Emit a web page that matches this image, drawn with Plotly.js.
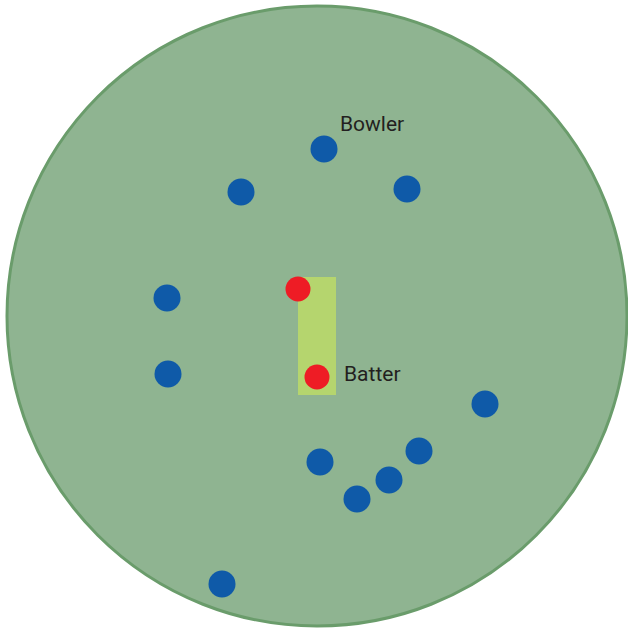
<!DOCTYPE html>
<html>
<head>
<meta charset="utf-8">
<script src="https://cdn.plot.ly/plotly-3.0.1.min.js"></script>
<style>html,body{margin:0;padding:0;background:#fff;}#chart{width:628px;height:630px;}</style>
</head>
<body>
<div id="chart"></div>
<script>
// Field coordinates: origin at field centre, y up
const fieldRadius = [310];
const pitchX = [-19, 19];
const pitchY = [-79, 39];

const fielderX = [7, -76, 90, -150, -149, 168, 102, 3, 72, 40, -95];
const fielderY = [167, 124, 127, 18, -58, -88, -135, -146, -164, -183, -268];

const batterX = [-19, 0];
const batterY = [27, -61];

const labelText = ["Bowler", "Batter"];
const labelX = [23, 27];
const labelY = [190, -60];

const r = fieldRadius[0];
const data = [
  {
    type: 'scatter', mode: 'markers', x: fielderX, y: fielderY,
    marker: {color: '#0f5aa8', size: 27, line: {width: 0}},
    hoverinfo: 'skip', showlegend: false
  },
  {
    type: 'scatter', mode: 'markers', x: batterX, y: batterY,
    marker: {color: '#ee1c25', size: 25, line: {width: 0}},
    hoverinfo: 'skip', showlegend: false
  },
  {
    type: 'scatter', mode: 'text', x: labelX, y: labelY, text: labelText,
    textposition: 'middle right',
    textfont: {family: 'Roboto, sans-serif', size: 21, color: '#231f20'},
    hoverinfo: 'skip', showlegend: false
  }
];

const layout = {
  width: 628, height: 630,
  margin: {l: 0, r: 0, t: 0, b: 0},
  paper_bgcolor: '#ffffff', plot_bgcolor: 'rgba(0,0,0,0)',
  xaxis: {range: [-317, 311], visible: false, fixedrange: true},
  yaxis: {range: [-314, 316], visible: false, fixedrange: true},
  shapes: [
    {type: 'circle', xref: 'x', yref: 'y', x0: -r, x1: r, y0: -r, y1: r,
     fillcolor: '#8fb491', line: {color: '#6a9c6b', width: 3}, layer: 'below'},
    {type: 'rect', xref: 'x', yref: 'y', x0: pitchX[0], x1: pitchX[1], y0: pitchY[0], y1: pitchY[1],
     fillcolor: '#b5d56e', line: {width: 0}, layer: 'below'}
  ]
};

Plotly.newPlot('chart', data, layout, {displayModeBar: false, staticPlot: true});
</script>
</body>
</html>
